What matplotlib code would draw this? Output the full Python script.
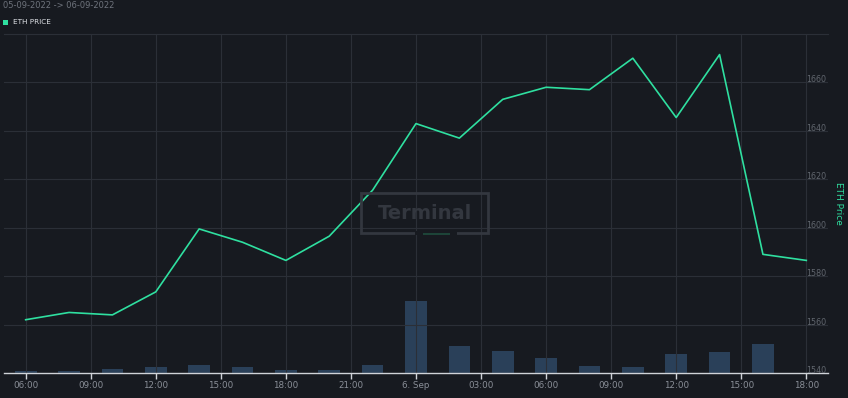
import matplotlib
matplotlib.use("Agg")
import matplotlib.pyplot as plt
import matplotlib.patches as mpatches
from datetime import datetime, timedelta

# ETH price every 2 hours, 05-09-2022 06:00 -> 06-09-2022 18:00
start = datetime(2022, 9, 5, 6)
times = [start + timedelta(hours=2 * i) for i in range(19)]
price = [1562, 1565, 1564, 1573.5, 1599.5, 1594, 1586.5, 1596.5, 1615.5,
         1643, 1637, 1653, 1658, 1657, 1670, 1645.5, 1671.5, 1589, 1586.5]

# volume bars (relative units)
vol_times = times[:18]
volume = [2, 2, 4, 6, 8, 6, 3, 3, 8, 72, 27, 22, 15, 7, 6, 19, 21, 29]

tick_times = [datetime(2022, 9, 5, 6) + timedelta(hours=3 * i) for i in range(13)]
tick_labels = ["06:00", "09:00", "12:00", "15:00", "18:00", "21:00", "6. Sep",
               "03:00", "06:00", "09:00", "12:00", "15:00", "18:00"]
y_ticks = [1540, 1560, 1580, 1600, 1620, 1640, 1660]

BG = "#171a20"
GRID = "#2b2f37"
GREEN = "#2fe0a0"
TXT = "#8a8f98"

fig = plt.figure(figsize=(8.48, 3.98), dpi=100, facecolor=BG)
ax2 = fig.add_axes([0.0047, 0.0628, 0.9717, 0.8518])
ax = ax2.twinx()
ax.set_zorder(ax2.get_zorder() + 1)
ax.patch.set_visible(False)
ax2.set_facecolor(BG)

xmin = datetime(2022, 9, 5, 5)
xmax = datetime(2022, 9, 6, 19)

# volume
ax2.bar(vol_times, volume, width=1 / 24, color="#2d4560", alpha=0.9, zorder=1)
ax2.set_ylim(0, 339)
ax2.set_yticks([])
ax2.set_xlim(xmin, xmax)
ax2.set_xticks(tick_times)
ax2.set_xticklabels(tick_labels)
ax2.tick_params(axis="x", colors="#d0d3d8", labelcolor=TXT, labelsize=6.3,
                length=4, width=1, pad=2)
ax2.grid(axis="x", color=GRID, lw=0.8, zorder=0)
for s in ["left", "right", "top"]:
    ax2.spines[s].set_visible(False)
ax2.spines["bottom"].set_color("#d0d3d8")
ax2.spines["bottom"].set_linewidth(1)

# price
ax.plot(times, price, color=GREEN, lw=1.2, zorder=3)
ax.set_xlim(xmin, xmax)
ax.set_ylim(1540, 1680)
ax.set_yticks(y_ticks)
ax.yaxis.tick_right()
ax.tick_params(axis="y", length=0, pad=-1, labelsize=5.8, labelcolor="#61666e")
for lbl in ax.get_yticklabels():
    lbl.set_ha("right")
    lbl.set_va("baseline")
ax.grid(axis="y", color=GRID, lw=0.8)
for s in ["left", "right", "bottom"]:
    ax.spines[s].set_visible(False)
ax.spines["top"].set_color(GRID)

# watermark
fig.patches.append(mpatches.Rectangle((361 / 848, 1 - 233 / 398), 127 / 848, 40 / 398,
                                      transform=fig.transFigure, fill=False,
                                      ec="#33373f", lw=2))
fig.patches.append(mpatches.Rectangle((415 / 848, 1 - 235 / 398), 42 / 848, 4 / 398,
                                      transform=fig.transFigure, fc=BG, ec="none"))
fig.patches.append(mpatches.Rectangle((423 / 848, 1 - 234.5 / 398), 27 / 848, 2 / 398,
                                      transform=fig.transFigure, fc="#1d4438", ec="none"))
fig.text(425 / 848, 1 - 213 / 398, "Terminal", color="#33373f", fontsize=14,
         fontweight="bold", ha="center", va="center")

# header + legend
fig.text(3 / 848, 1 - 6 / 398, "05-09-2022 -> 06-09-2022", color="#6e737c",
         fontsize=6, ha="left", va="center")
fig.patches.append(mpatches.Rectangle((3 / 848, 1 - 25 / 398), 5 / 848, 5 / 398,
                                      transform=fig.transFigure, fc=GREEN, ec="none"))
fig.text(13 / 848, 1 - 22.5 / 398, "ETH PRICE", color="#e0e3e8", fontsize=5.2,
         ha="left", va="center")

fig.text(838 / 848, 1 - 203 / 398, "ETH Price", color=GREEN, fontsize=6.5,
         rotation=270, ha="center", va="center")

fig.savefig("out.png", dpi=100, facecolor=BG)
